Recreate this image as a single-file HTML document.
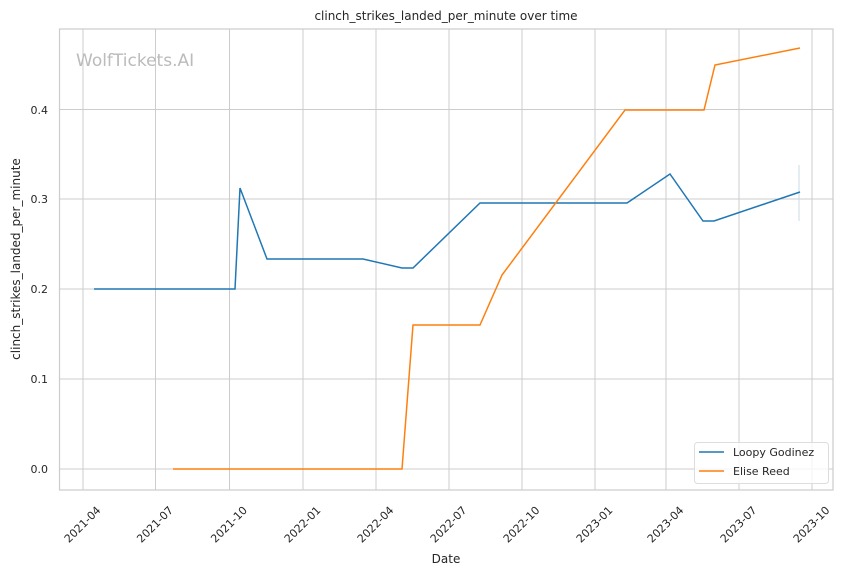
<!DOCTYPE html>
<html><head><meta charset="utf-8"><style>body{margin:0;background:#fff}svg{display:block}</style></head><body>
<svg width="844" height="575" viewBox="0 0 844 575" xmlns="http://www.w3.org/2000/svg" font-family="DejaVu Sans, Liberation Sans, sans-serif">
<rect width="844" height="575" fill="#fff"/>
<g stroke="#cccccc" stroke-width="1">
<line x1="83" y1="29" x2="83" y2="490"/><line x1="155.5" y1="29" x2="155.5" y2="490"/><line x1="229.5" y1="29" x2="229.5" y2="490"/><line x1="303" y1="29" x2="303" y2="490"/><line x1="376" y1="29" x2="376" y2="490"/><line x1="449" y1="29" x2="449" y2="490"/><line x1="522" y1="29" x2="522" y2="490"/><line x1="595" y1="29" x2="595" y2="490"/><line x1="666" y1="29" x2="666" y2="490"/><line x1="739" y1="29" x2="739" y2="490"/><line x1="812" y1="29" x2="812" y2="490"/>
<line x1="59.5" y1="469" x2="833" y2="469"/><line x1="59.5" y1="379" x2="833" y2="379"/><line x1="59.5" y1="289" x2="833" y2="289"/><line x1="59.5" y1="199" x2="833" y2="199"/><line x1="59.5" y1="109.5" x2="833" y2="109.5"/>
</g>
<rect x="59.5" y="29" width="773.5" height="461" fill="none" stroke="#cccccc" stroke-width="1.2"/>
<text x="76" y="66" font-size="17" fill="#bbbbbb">WolfTickets.AI</text>
<line x1="799" y1="165" x2="799" y2="221" stroke="#c8dce6" stroke-width="1"/>
<polyline fill="none" stroke="#1f77b4" stroke-width="1.5" points="94,289 235,289 240,188 267,259 363,259 402,268 413,268 480,203 627,203 670,174 703,221 714,221 800,192"/>
<polyline fill="none" stroke="#ff7f0e" stroke-width="1.5" points="173,469 402,469 413,325 480,325 502,275 625,110 704,110 715,65 800,48"/>
<g font-size="11" fill="#262626" text-anchor="end">
<text x="48" y="473">0.0</text><text x="48" y="383">0.1</text><text x="48" y="293">0.2</text><text x="48" y="203">0.3</text><text x="48" y="114">0.4</text>
</g>
<g font-size="11" fill="#262626" text-anchor="middle" dominant-baseline="middle">
<text transform="translate(83,525) rotate(-45)">2021-04</text>
<text transform="translate(155.5,525) rotate(-45)">2021-07</text>
<text transform="translate(229.5,525) rotate(-45)">2021-10</text>
<text transform="translate(303,525) rotate(-45)">2022-01</text>
<text transform="translate(376,525) rotate(-45)">2022-04</text>
<text transform="translate(449,525) rotate(-45)">2022-07</text>
<text transform="translate(522,525) rotate(-45)">2022-10</text>
<text transform="translate(595,525) rotate(-45)">2023-01</text>
<text transform="translate(666,525) rotate(-45)">2023-04</text>
<text transform="translate(739,525) rotate(-45)">2023-07</text>
<text transform="translate(812,525) rotate(-45)">2023-10</text>
</g>
<text x="446" y="563" font-size="12" fill="#262626" text-anchor="middle">Date</text>
<text transform="translate(20,259) rotate(-90)" font-size="12" fill="#262626" text-anchor="middle">clinch_strikes_landed_per_minute</text>
<text x="446" y="20" font-size="12" fill="#262626" text-anchor="middle">clinch_strikes_landed_per_minute over time</text>
<rect x="694.5" y="442.5" width="134" height="41" rx="3" fill="#fff" fill-opacity="0.8" stroke="#dddddd"/>
<line x1="699" y1="452" x2="724" y2="452" stroke="#1f77b4" stroke-width="1.5"/>
<line x1="699" y1="471" x2="724" y2="471" stroke="#ff7f0e" stroke-width="1.5"/>
<text x="733" y="456" font-size="11" fill="#262626">Loopy Godinez</text>
<text x="733" y="475" font-size="11" fill="#262626">Elise Reed</text>
</svg>
</body></html>
